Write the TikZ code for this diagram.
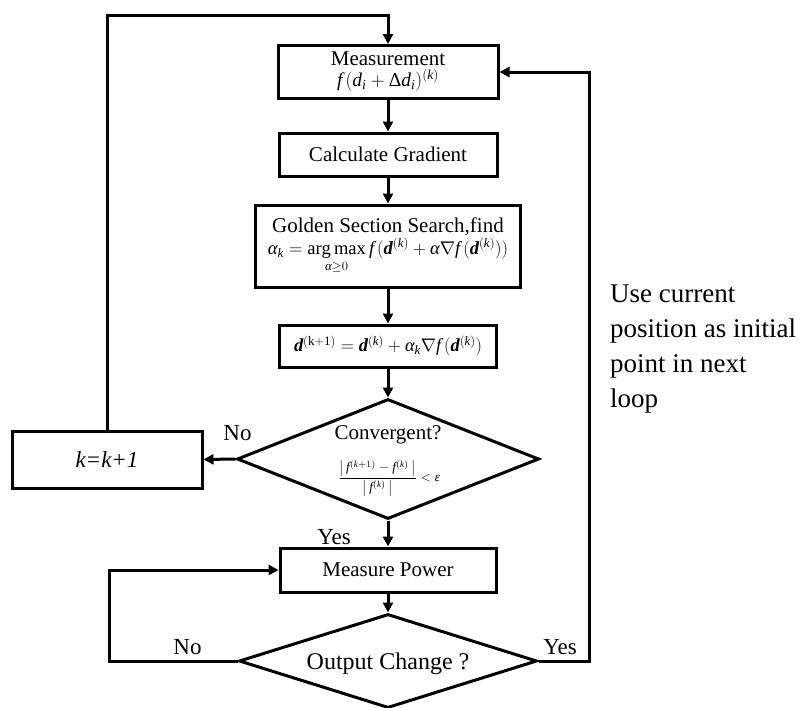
\documentclass[tikz,border=0pt]{standalone}
\usepackage{amsmath}
\usepackage{amssymb}
\usepackage{fontspec}
\setmainfont{Liberation Serif}[NFSSFamily=lsf]
\usepackage{graphicx}
\usetikzlibrary{shapes.geometric,arrows.meta,calc}

% Times-like glyphs for the letters used in the formulas
\DeclareSymbolFont{tlet}{TU}{lsf}{m}{it}
\DeclareSymbolFont{tbold}{TU}{lsf}{b}{it}
\DeclareSymbolFont{tup}{TU}{lsf}{m}{n}
\DeclareMathSymbol{f}{\mathalpha}{tlet}{`f}
\DeclareMathSymbol{d}{\mathalpha}{tlet}{`d}
\DeclareMathSymbol{i}{\mathalpha}{tlet}{`i}
\DeclareMathSymbol{k}{\mathalpha}{tlet}{`k}
\DeclareMathSymbol{\bd}{\mathalpha}{tbold}{`d}
\Umathchardef\talpha=0 \symtlet "3B1
\Umathchardef\teps=0 \symtlet "3B5
\Umathchardef\tDelta=0 \symtup "394

\newcommand{\fsz}[2]{\fontsize{#1}{#2}\selectfont}

\tikzset{
  box/.style={draw, rectangle, line width=3pt, inner sep=0pt, align=center,
    font=\fsz{21}{24}},
  decision/.style={draw, diamond, line width=3pt, inner sep=0pt},
  flow/.style={line width=3pt, -{Triangle[length=10pt,width=10pt]}},
  lbl/.style={inner sep=0pt, font=\fsz{23}{26}},
  txt/.style={inner sep=0pt, font=\fsz{21}{24}},
}

\begin{document}
\begin{tikzpicture}[x=1pt,y=-1pt]
\useasboundingbox (0,0) rectangle (800,707);

% main column
\node[box, minimum width=220pt, minimum height=53pt] (meas) at (388,72)
  {Measurement\\[-3pt]\resizebox{102pt}{!}{$f\,(d_i+\tDelta d_i)^{(k)}$}};
\node[box, minimum width=218pt, minimum height=43pt] (cg) at (388,154.5)
  {Calculate Gradient};
\node[box, minimum width=265pt, minimum height=82pt] (gold) at (388,246)
  {Golden Section Search,find\\[-2pt]
   \resizebox{240pt}{!}{$\displaystyle \talpha_k=\operatorname*{arg\,max}_{\talpha\geq 0} f\,(\bd^{(k)}+\talpha\nabla f\,(\bd^{(k)}))$}};
\node[box, minimum width=217pt, minimum height=42pt] (upd) at (388,346)
  {\resizebox{188pt}{!}{$\bd^{(\mathrm{k+1})}=\bd^{(k)}+\talpha_k\nabla f\,(\bd^{(k)})$}};

% convergence test
\node[decision, minimum width=302pt, minimum height=120pt] (conv) at (388,459) {};
\node[txt] (convq) at (388,435) {Convergent?};
\node[inner sep=0pt] (convf) at (389,478)
  {\resizebox{102pt}{!}{$\displaystyle\frac{\left|\,f^{(k+1)}-f^{(k)}\,\right|}{\left|\,f^{(k)}\,\right|}<\teps$}};

\node[box, minimum width=190pt, minimum height=57pt, font=\fsz{23}{26}\itshape] (kbox) at (107,459.5) {k=k+1};

% power measurement loop
\node[box, minimum width=216pt, minimum height=44pt] (mp) at (388,570) {Measure Power};
\node[decision, minimum width=298pt, minimum height=94pt] (outc) at (388,661) {};
\node[inner sep=0pt, font=\fsz{24}{28}] (outq) at (388,664) {Output Change ?};

% branch labels
\node[lbl] (no1) at (237.5,433) {No};
\node[lbl] (yes1) at (334,537) {Yes};
\node[lbl] (no2) at (187.5,647) {No};
\node[lbl] (yes2) at (560,647) {Yes};

% side note
\node[inner sep=0pt, anchor=north west, align=left, font=\fsz{27}{35}] (note) at (610,285)
  {Use current\\position as initial\\point in next\\loop};

% turning points of the loops
\coordinate (ktop) at (107,15);
\coordinate (lp) at (109,661);
\coordinate (rp) at (589,661);

% connectors
\draw[flow] (meas) -- (cg);
\draw[flow] (cg) -- (gold);
\draw[flow] (gold) -- (upd);
\draw[flow] (upd) -- (conv);
\draw[flow] (conv.west) -- (kbox.east);
\draw[flow] (kbox.north) -- (kbox.north |- ktop) -| (meas.north);
\draw[flow] (conv.south) -- (mp.north);
\draw[flow] (mp) -- (outc);
\draw[flow] (outc.west) -- (lp) |- (mp.west);
\draw[flow] (outc.east) -- (rp) |- (meas.east);
\end{tikzpicture}
\end{document}
